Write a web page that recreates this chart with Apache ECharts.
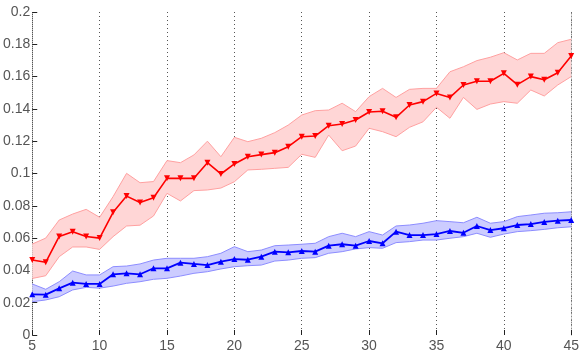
<!DOCTYPE html>
<html>
<head>
<meta charset="utf-8">
<script src="https://cdn.jsdelivr.net/npm/echarts@6/dist/echarts.min.js"></script>
<style>
  html, body { margin: 0; padding: 0; background: #fff; }
  #chart { width: 582px; height: 356px; }
</style>
</head>
<body>
<div id="chart"></div>
<script>
// x positions (5..45)
const xs = [5, 6, 7, 8, 9, 10, 11, 12, 13, 14, 15, 16, 17, 18, 19, 20, 21, 22, 23, 24, 25,
  26, 27, 28, 29, 30, 31, 32, 33, 34, 35, 36, 37, 38, 39, 40, 41, 42, 43, 44, 45];

// tick labels
const xTicks = [5, 10, 15, 20, 25, 30, 35, 40, 45];
const yTicks = [0, 0.02, 0.04, 0.06, 0.08, 0.1, 0.12, 0.14, 0.16, 0.18, 0.2];

// red series: mean, upper and lower band
const redMean = [0.0464, 0.045, 0.061, 0.064, 0.061, 0.060, 0.076, 0.086, 0.082, 0.085, 0.097,
  0.097, 0.097, 0.1067, 0.0997, 0.1059, 0.1104, 0.1117, 0.1129, 0.1166, 0.1228,
  0.1232, 0.1296, 0.1307, 0.1331, 0.1381, 0.1385, 0.1348, 0.1424, 0.1445, 0.1496,
  0.1471, 0.1548, 0.1571, 0.1571, 0.162, 0.155, 0.160, 0.158, 0.1624, 0.1728];
const redUpper = [0.0563, 0.060, 0.0712, 0.0749, 0.0778, 0.0729, 0.0857, 0.1001, 0.0943, 0.095, 0.108,
  0.1067, 0.1115, 0.1200, 0.1104, 0.1224, 0.1197, 0.1218, 0.1253, 0.130, 0.1362,
  0.1389, 0.1393, 0.1435, 0.1383, 0.1476, 0.1527, 0.1471, 0.1521, 0.1527, 0.1527,
  0.163, 0.1661, 0.1699, 0.172, 0.1748, 0.1703, 0.1744, 0.1744, 0.181, 0.1831];
const redLower = [0.035, 0.0367, 0.0485, 0.0545, 0.0545, 0.053, 0.0609, 0.0675, 0.068, 0.0737, 0.0877,
  0.083, 0.0894, 0.0898, 0.091, 0.0949, 0.1022, 0.1026, 0.1032, 0.1038, 0.1119,
  0.110, 0.1238, 0.1141, 0.117, 0.128, 0.1259, 0.1228, 0.1286, 0.132, 0.141,
  0.1342, 0.1471, 0.1397, 0.143, 0.1445, 0.1435, 0.1517, 0.148, 0.1548, 0.160];

// blue series: mean, upper and lower band
const blueMean = [0.0252, 0.025, 0.0289, 0.0324, 0.0316, 0.0316, 0.0376, 0.0382, 0.0376, 0.0413, 0.0413,
  0.0448, 0.044, 0.0433, 0.0454, 0.047, 0.0466, 0.0485, 0.0516, 0.0512, 0.052,
  0.0516, 0.0553, 0.0562, 0.0553, 0.0582, 0.0568, 0.064, 0.0619, 0.0619, 0.0625,
  0.0644, 0.0633, 0.0675, 0.065, 0.0661, 0.0681, 0.0687, 0.070, 0.0708, 0.0712];
const blueUpper = [0.0316, 0.0283, 0.033, 0.0396, 0.0372, 0.0372, 0.0423, 0.0427, 0.044, 0.0464, 0.0475,
  0.0475, 0.0475, 0.0485, 0.0506, 0.0547, 0.0516, 0.0526, 0.0553, 0.0557, 0.0562,
  0.0568, 0.0609, 0.063, 0.0609, 0.064, 0.0619, 0.0675, 0.0681, 0.0692, 0.0708,
  0.0702, 0.0695, 0.0729, 0.0692, 0.0702, 0.0733, 0.0743, 0.0754, 0.0757, 0.0763];
const blueLower = [0.0206, 0.0217, 0.0237, 0.0279, 0.0295, 0.029, 0.0303, 0.032, 0.033, 0.0345, 0.0351,
  0.0365, 0.0382, 0.0392, 0.0409, 0.0423, 0.0429, 0.0433, 0.0458, 0.0464, 0.0475,
  0.0479, 0.0506, 0.0516, 0.0533, 0.0541, 0.0537, 0.0572, 0.0578, 0.0588, 0.0588,
  0.0599, 0.0609, 0.063, 0.0605, 0.0625, 0.064, 0.0646, 0.0654, 0.0664, 0.067];

function diffs(up, lo) {
  return up.map(function (u, i) { return u - lo[i]; });
}

// show a tick / grid line only where the category is one of xTicks
function onTick(index) {
  return xTicks.indexOf(xs[index]) !== -1;
}

function bandSeries(name, lower, upper, edge, fill) {
  return [
    {
      name: name + "Lower",
      type: "line",
      stack: name,
      data: lower,
      symbol: "none",
      lineStyle: { color: edge, width: 1 },
      z: 1,
    },
    {
      name: name + "Band",
      type: "line",
      stack: name,
      data: diffs(upper, lower),
      symbol: "none",
      lineStyle: { color: edge, width: 1 },
      areaStyle: { color: fill, opacity: 1 },
      z: 1,
    },
  ];
}

const dotted = { color: "#555", type: [1, 3], width: 1 };

let chart = echarts.init(document.getElementById("chart"));

let option = {
  animation: false,
  backgroundColor: "#fff",
  grid: { left: 29, right: 10, top: 12, bottom: 21 },
  xAxis: {
    type: "category",
    data: xs.map(String),
    boundaryGap: false,
    axisLine: { show: false },
    axisTick: {
      show: true,
      inside: true,
      length: 5,
      interval: onTick,
      lineStyle: { color: "#222" },
    },
    axisLabel: {
      color: "#555",
      fontSize: 14,
      fontFamily: "Liberation Sans",
      margin: 4,
      interval: onTick,
    },
    splitLine: { show: true, interval: onTick, lineStyle: dotted },
  },
  yAxis: [
    {
      type: "value",
      min: yTicks[0],
      max: yTicks[yTicks.length - 1],
      interval: 0.02,
      axisLine: { show: true, lineStyle: dotted },
      axisTick: { show: true, inside: true, length: 5, lineStyle: { color: "#222" } },
      axisLabel: {
        color: "#555",
        fontSize: 14,
        fontFamily: "Liberation Sans",
        margin: 2,
        formatter: function (v) {
          return String(+v.toFixed(2));
        },
      },
      splitLine: { show: false },
    },
    {
      // right edge: dotted line only
      type: "value",
      position: "right",
      min: yTicks[0],
      max: yTicks[yTicks.length - 1],
      interval: 0.02,
      axisLine: { show: true, lineStyle: { color: "#888", type: [1, 2], width: 1 } },
      axisTick: { show: false },
      axisLabel: { show: false },
      splitLine: { show: false },
    },
  ],
  series: []
    .concat(bandSeries("red", redLower, redUpper, "#ffa0a0", "#ffd6d6"))
    .concat(bandSeries("blue", blueLower, blueUpper, "#8c8cff", "#ccccff"))
    .concat([
      {
        name: "redMean",
        type: "line",
        data: redMean,
        symbol: "triangle",
        symbolRotate: 180,
        symbolSize: 6,
        lineStyle: { color: "#ff0000", width: 1.6 },
        itemStyle: { color: "#ff0000" },
        z: 3,
      },
      {
        name: "blueMean",
        type: "line",
        data: blueMean,
        symbol: "triangle",
        symbolSize: 6,
        lineStyle: { color: "#0000ff", width: 1.8 },
        itemStyle: { color: "#0000ff" },
        z: 3,
      },
    ]),
};

chart.setOption(option);
</script>
</body>
</html>
